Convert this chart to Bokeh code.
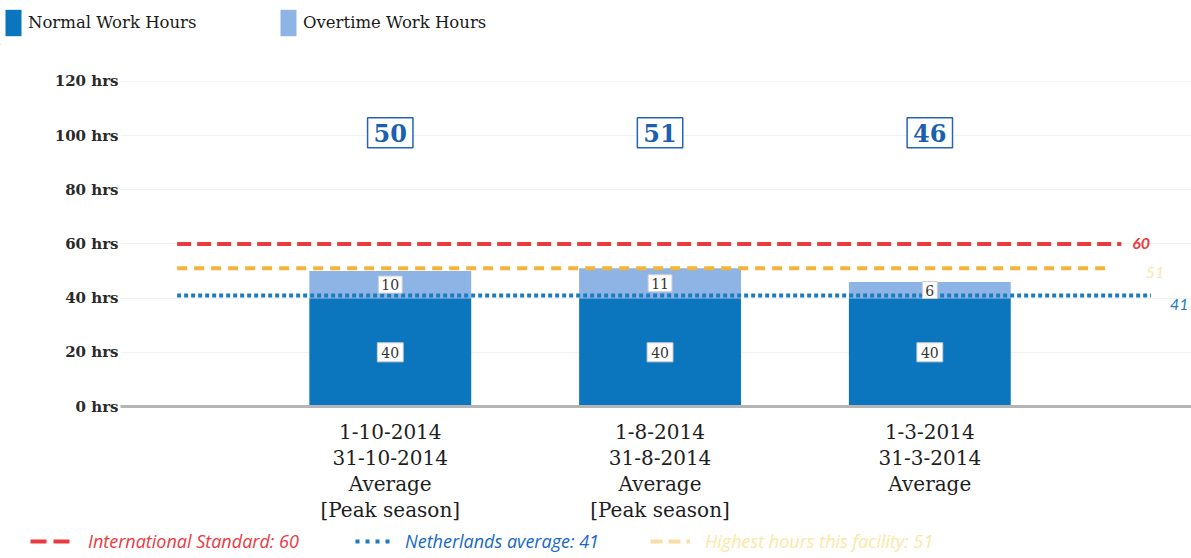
from bokeh.plotting import figure
from bokeh.layouts import column
from bokeh.models import (ColumnDataSource, FixedTicker, Legend, LegendItem,
                          Range1d, Label)
from bokeh.core.properties import value
from bokeh.embed import file_html
from bokeh.resources import INLINE

# ---- data ----
period_labels = [
    "1-10-2014\n31-10-2014\nAverage\n[Peak season]",
    "1-8-2014\n31-8-2014\nAverage\n[Peak season]",
    "1-3-2014\n31-3-2014\nAverage",
]
normal_hours = [40, 40, 40]
overtime_hours = [10, 11, 6]
total_hours = [50, 51, 46]
y_ticks = [0, 20, 40, 60, 80, 100, 120]
y_tick_labels = ["0 hrs", "20 hrs", "40 hrs", "60 hrs", "80 hrs", "100 hrs", "120 hrs"]
international_standard = 60
netherlands_average = 41
highest_facility = 51

# ---- styling constants ----
NORMAL_C = "#0b76be"
OVER_C = "#8db4e5"
RED = "#ea3a3f"
YELLOW = "#f3b43a"
BLUE_D = "#1b7cc0"
SERIF = "DejaVu Serif"
SANS = "Lato"
LEG_SANS = "Open Sans"
W = 1191
TOP_H = 45
BOT_H = 34
MAIN_H = 558 - TOP_H - BOT_H


def no_frame_align(f):
    try:
        f.frame_align = False
    except Exception:
        pass


def bare_fig(h):
    f = figure(width=W, height=h, output_backend="svg", toolbar_location=None,
               x_range=Range1d(0, W), y_range=Range1d(0, h),
               min_border=0, x_axis_type=None, y_axis_type=None)
    f.outline_line_color = None
    f.grid.visible = False
    f.background_fill_color = "white"
    f.border_fill_color = "white"
    no_frame_align(f)
    return f


def add_legend(fig, label, rend, loc, gw, gh, standoff, color, font, style, size):
    lg = Legend(items=[LegendItem(label=label, renderers=[rend])], location=loc,
                orientation="horizontal", glyph_width=gw, glyph_height=gh,
                label_standoff=standoff, padding=0, margin=0, spacing=0,
                border_line_color=None, background_fill_alpha=0,
                label_text_color=color, label_text_font=font,
                label_text_font_style=style, label_text_font_size=size)
    fig.add_layout(lg, "center")


# ---------------- main chart ----------------
x_pos = [1, 2, 3]
src = ColumnDataSource(dict(
    x=x_pos,
    normal=normal_hours,
    over=overtime_hours,
    top=[n + o for n, o in zip(normal_hours, overtime_hours)],
    normal_mid=[n / 2 for n in normal_hours],
    over_mid=[n + o / 2 for n, o in zip(normal_hours, overtime_hours)],
    normal_txt=[str(v) for v in normal_hours],
    over_txt=[str(v) for v in overtime_hours],
    total_txt=[str(v) for v in total_hours],
    total_y=[101] * 3,
))

p = figure(width=W, height=MAIN_H, output_backend="svg", toolbar_location=None,
           x_range=Range1d(0.0, 3.97), y_range=Range1d(0, 133.25),
           min_border_left=120, min_border_right=0, min_border_top=0,
           min_border_bottom=MAIN_H - (407 - TOP_H))
p.outline_line_color = None
p.background_fill_color = "white"
p.border_fill_color = "white"
no_frame_align(p)

p.xgrid.grid_line_color = None
p.ygrid.ticker = FixedTicker(ticks=y_ticks)
p.ygrid.grid_line_color = "#f1f1f1"
p.ygrid.grid_line_width = 1

p.yaxis.ticker = FixedTicker(ticks=y_ticks)
p.yaxis.major_label_overrides = {t: l for t, l in zip(y_ticks, y_tick_labels)}
p.yaxis.axis_line_color = None
p.yaxis.major_tick_line_color = None
p.yaxis.minor_tick_line_color = None
p.yaxis.major_label_text_font = SERIF
p.yaxis.major_label_text_font_size = "15px"
p.yaxis.major_label_text_font_style = "bold"
p.yaxis.major_label_text_color = "#2a2a2a"
p.yaxis.major_label_standoff = -4

p.xaxis.ticker = FixedTicker(ticks=x_pos)
p.xaxis.major_label_overrides = {x: l for x, l in zip(x_pos, period_labels)}
p.xaxis.axis_line_color = "#b5b5b5"
p.xaxis.axis_line_width = 3
p.xaxis.major_tick_line_color = None
p.xaxis.minor_tick_line_color = None
p.xaxis.major_label_text_font = SERIF
p.xaxis.major_label_text_font_size = "20px"
p.xaxis.major_label_text_color = "#1e1e1e"
p.xaxis.major_label_text_line_height = 1.09
p.xaxis.major_label_standoff = 7

r_norm = p.vbar(x="x", bottom=0, top="normal", width=0.6, source=src,
                fill_color=NORMAL_C, line_color=None)
r_over = p.vbar(x="x", bottom="normal", top="top", width=0.6, source=src,
                fill_color=OVER_C, line_color=None)

r_red = p.line(x=[0.21, 3.71], y=[international_standard] * 2, line_color=RED,
               line_width=4, line_dash="14 6")
r_yel = p.line(x=[0.21, 3.67], y=[highest_facility] * 2, line_color=YELLOW,
               line_width=4, line_dash="10 7")
r_blu = p.line(x=[0.21, 3.82], y=[netherlands_average] * 2, line_color=BLUE_D,
               line_width=4, line_dash="4 3")

p.add_layout(Label(x=3.75, y=international_standard, text=str(international_standard),
                   text_color=RED, text_font=SANS, text_font_style="bold italic",
                   text_font_size="16px", text_baseline="middle"))
p.add_layout(Label(x=3.8, y=highest_facility - 1.5, text=str(highest_facility),
                   text_color="#fbe7b0", text_font=SANS, text_font_style="italic",
                   text_font_size="16px", text_baseline="middle"))
p.add_layout(Label(x=3.89, y=netherlands_average - 3.5, text=str(netherlands_average),
                   text_color=BLUE_D, text_font=SANS, text_font_style="italic",
                   text_font_size="16px", text_baseline="middle"))

p.text(x="x", y="normal_mid", text="normal_txt", source=src,
       text_align="center", text_baseline="middle",
       text_font=value(SERIF), text_font_size="14px", text_color="#333333",
       background_fill_color="white", border_line_color="#cfcfcf", padding=4)
p.text(x="x", y="over_mid", text="over_txt", source=src,
       text_align="center", text_baseline="middle",
       text_font=value(SERIF), text_font_size="14px", text_color="#333333",
       background_fill_color="white", border_line_color="#cfcfcf", padding=3)
p.text(x="x", y="total_y", text="total_txt", source=src,
       text_align="center", text_baseline="middle",
       text_font=value(SERIF), text_font_size="24px", text_font_style="bold",
       text_color="#1b5fb0", background_fill_color="white",
       border_line_color="#2563b5", border_line_width=1.5, padding=6)

# ---------------- top legend ----------------
pt = bare_fig(TOP_H)
sw_norm = pt.vbar(x=[-100], top=[1], width=1, fill_color=NORMAL_C, line_color=None)
sw_over = pt.vbar(x=[-100], top=[1], width=1, fill_color=OVER_C, line_color=None)
add_legend(pt, "Normal Work Hours", sw_norm, (3, 6), 20, 33, 5, "#1a1a1a", SERIF, "normal", "16.5px")
add_legend(pt, "Overtime Work Hours", sw_over, (278, 6), 20, 33, 5, "#1a1a1a", SERIF, "normal", "16.5px")

# ---------------- bottom legend ----------------
pb = bare_fig(BOT_H)
sw_red = pb.line(x=[-100, -90], y=[-5, -5], line_color=RED, line_width=4, line_dash="16 7")
sw_blu = pb.line(x=[-100, -90], y=[-5, -5], line_color=BLUE_D, line_width=4, line_dash="4 6")
sw_yel = pb.line(x=[-100, -90], y=[-5, -5], line_color=YELLOW, line_width=4,
                 line_dash="12 6", line_alpha=0.45)
add_legend(pb, "International Standard: 60", sw_red, (30, 5), 45, 20, 13, RED, LEG_SANS, "italic", "18px")
add_legend(pb, "Netherlands average: 41", sw_blu, (355, 5), 40, 20, 10, "#1668c2", LEG_SANS, "italic", "18px")
add_legend(pb, "Highest hours this facility: 51", sw_yel, (650, 5), 40, 20, 15, "#fce7a6", LEG_SANS, "italic", "18px")

layout = column(pt, p, pb, spacing=0)
open("out.html", "w").write(file_html(layout, INLINE))
